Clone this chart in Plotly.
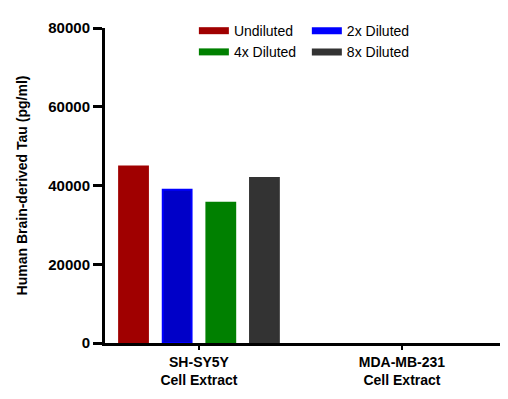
import plotly.graph_objects as go

categories = ["SH-SY5Y<br>Cell Extract", "MDA-MB-231<br>Cell Extract"]
series_names = ["Undiluted", "2x Diluted", "4x Diluted", "8x Diluted"]
undiluted = [44800, 0]
diluted_2x = [38900, 0]
diluted_4x = [35600, 0]
diluted_8x = [41900, 0]
y_ticks = [0, 20000, 40000, 60000, 80000]

values = [undiluted, diluted_2x, diluted_4x, diluted_8x]
fills = ["#a00000", "#0000c8", "#008000", "#333333"]
borders = ["#a00000", "#0000ff", "#008000", "#333333"]
legend_ids = ["legend", "legend2", "legend", "legend2"]

fig = go.Figure()
for name, vals, fc, bc in zip(series_names, values, fills, borders):
    fig.add_trace(go.Bar(x=categories, y=vals, name=name, showlegend=False,
                         marker=dict(color=fc,
                                     line=dict(color=bc, width=[2 if v > 0 else 0 for v in vals]))))
for name, bc, lg in zip(series_names, borders, legend_ids):
    fig.add_trace(go.Scatter(x=[None], y=[None], mode="lines", name=name,
                             line=dict(color=bc, width=7), legend=lg))

font = "Liberation Sans, Arial, sans-serif"
fig.update_layout(
    width=500, height=391,
    margin=dict(l=97, r=8, t=20, b=56, autoexpand=False),
    plot_bgcolor="white", paper_bgcolor="white",
    barmode="group", bargap=0.14, bargroupgap=0.34,
    font=dict(family=font, color="black"),
    showlegend=True,
    legend=dict(x=0.225, y=1.041, xanchor="left", yanchor="top",
                font=dict(size=14, family=font), tracegroupgap=0,
                itemwidth=30, bgcolor="rgba(0,0,0,0)"),
    legend2=dict(x=0.511, y=1.041, xanchor="left", yanchor="top",
                 font=dict(size=14, family=font), tracegroupgap=0,
                 itemwidth=30, bgcolor="rgba(0,0,0,0)"),
)
fig.update_xaxes(
    range=[-0.463, 1.483], showline=True, linecolor="black", linewidth=3,
    ticks="outside", ticklen=4, tickwidth=2, tickcolor="black",
    tickfont=dict(size=14, family=font, weight="bold"),
    showgrid=False, zeroline=False, automargin=False,
)
fig.update_yaxes(
    range=[0, 80000], tickvals=y_ticks, ticktext=[str(v) for v in y_ticks],
    showline=True, linecolor="black", linewidth=3,
    ticks="outside", ticklen=9, tickwidth=3, tickcolor="black",
    tickfont=dict(size=15, family=font, weight="bold"),
    showgrid=False, zeroline=False, automargin=False,
    title=dict(text="Human Brain-derived Tau (pg/ml)",
               font=dict(size=14, family=font, weight="bold"), standoff=18),
)
fig.write_html("out.html")
